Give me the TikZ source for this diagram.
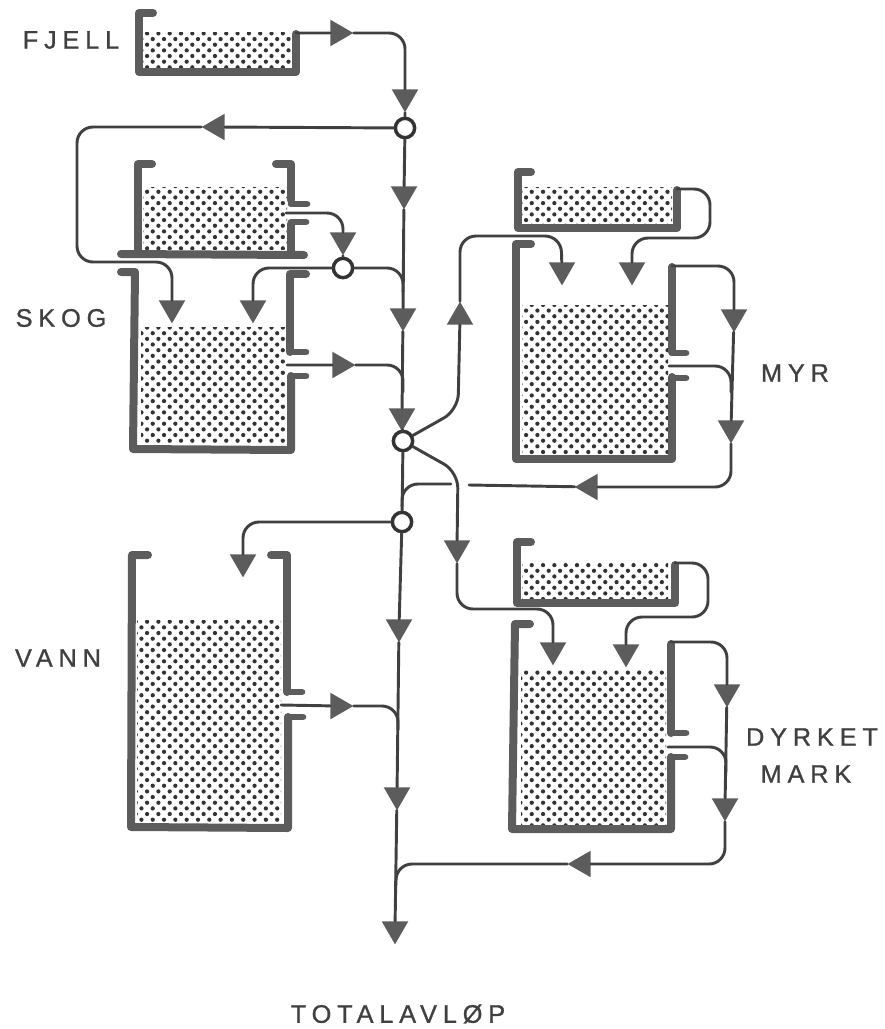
\documentclass[tikz,border=0pt]{standalone}
\usepackage{fontspec}
\setmainfont[LetterSpace=23,FakeBold=1]{Liberation Sans}
\usetikzlibrary{patterns.meta,shapes.geometric}
\definecolor{wallgray}{gray}{0.36}
\definecolor{linegray}{gray}{0.25}
\definecolor{tipgray}{gray}{0.36}
\tikzset{
  wall/.style={line width=6pt,draw=wallgray,line cap=round,line join=round},
  stud/.style={line width=5pt,draw=wallgray,line cap=round},
  stip/.style={pattern={Dots[radius=1.6pt,distance=6pt,angle=45]},pattern color=black!80},
  conn/.style={line width=2.2pt,draw=linegray,rounded corners=12pt},
  tip/.style={regular polygon,regular polygon sides=3,fill=tipgray,inner sep=0pt,minimum size=23pt},
  tipdown/.style={tip,shape border rotate=180},
  tipup/.style={tip},
  tipleft/.style={tip,shape border rotate=90},
  tipright/.style={tip,shape border rotate=-90},
  junct/.style={circle,draw=black!80,line width=2.6pt,fill=white,inner sep=0pt,minimum size=14.5pt},
  lbl/.style={font=\fontsize{19pt}{22pt}\selectfont,text=black!75,inner sep=0pt}
}
\begin{document}
\begin{tikzpicture}[x=0.75pt,y=-0.75pt,line cap=round,line join=round]
  \useasboundingbox (0,0) rectangle (885,1029);
  \fill[stip] (143,32) rectangle (291,68);
  \fill[stip] (143,187) rectangle (287,249);
  \fill[stip] (141,327) rectangle (286,443);
  \fill[stip] (137,620) rectangle (281,822);
  \fill[stip] (522,187) rectangle (672,223);
  \fill[stip] (522,305) rectangle (668,453);
  \fill[stip] (522,562) rectangle (668,598);
  \fill[stip] (521,670) rectangle (666,824);

  \draw[wall] (153,13) -- (139,13) -- (139,72) -- (296,72) -- (296,34);
  \draw[wall] (152,164) -- (138,164) -- (138,252);
  \draw[wall] (276,164) -- (291,164) -- (291,200);
  \draw[wall] (291,224) -- (291,253);
  \draw[wall] (121,254) -- (304,255);
  \draw[stud] (291,204) -- (307,204);
  \draw[stud] (291,222) -- (306,222);
  \draw[wall] (121,272) -- (135,272) -- (133,449) -- (291,450) -- (291,376);
  \draw[wall] (306,274) -- (290,274) -- (290,352);
  \draw[stud] (290,352) -- (306,352);
  \draw[stud] (291,376) -- (306,376);
  \draw[wall] (148,555) -- (132,555) -- (131,827) -- (288,828) -- (288,717);
  \draw[wall] (271,555) -- (287,555) -- (287,692);
  \draw[stud] (287,692) -- (302,692);
  \draw[stud] (288,717) -- (303,717);
  \draw[wall] (531,172) -- (518,172) -- (518,228) -- (677,228) -- (677,190);
  \draw[wall] (531,244) -- (516,244) -- (516,459) -- (672,459) -- (672,377);
  \draw[wall] (672,352) -- (672,267);
  \draw[stud] (672,353) -- (686,353);
  \draw[stud] (672,378) -- (686,378);
  \draw[wall] (531,542) -- (517,542) -- (517,603) -- (675,603) -- (675,565);
  \draw[wall] (530,624) -- (515,624) -- (512,829) -- (671,829) -- (671,757);
  \draw[wall] (671,733) -- (671,644);
  \draw[stud] (671,733) -- (686,733);
  \draw[stud] (671,757) -- (685,757);

  \coordinate (fjellout) at (296,33);
  \coordinate (skogaout) at (286,213);
  \coordinate (skogbout) at (287,365);
  \coordinate (vannout) at (281,705);
  \coordinate (myraout) at (677,189);
  \coordinate (myrbtop) at (672,266);
  \coordinate (myrbout) at (669,366);
  \coordinate (dyraout) at (675,563);
  \coordinate (dyrbtop) at (671,642);
  \coordinate (dyrbout) at (668,747);
  \coordinate (feedcorner) at (77,262);
  \coordinate (myrcorner) at (561,236);
  \coordinate (dyrcorner) at (553,609);
  \coordinate (upbend) at (458,410);
  \coordinate (dnbend) at (458,472);
  \coordinate (mergea) at (403,292);
  \coordinate (mergeb) at (403,392);
  \coordinate (mergec) at (402,506);
  \coordinate (merged) at (398,730);
  \coordinate (mergee) at (396,885);
  \coordinate (mergef) at (731,392);
  \coordinate (mergeg) at (726,772);
  \coordinate (gapright) at (469,485);
  \coordinate (gapleft) at (451,484);
  \coordinate (myraright) at (710,238);
  \coordinate (myrapipe) at (632,238);
  \coordinate (dyraright) at (708,617);
  \coordinate (dyrapipe) at (626,617);

  \node[junct] (jtop) at (405,128) {};
  \node[junct] (jskog) at (343,268) {};
  \node[junct] (jmid) at (403,441) {};
  \node[junct] (jvann) at (402,522) {};

  \node[tipright] (tfjella) at (338,33) {};
  \node[tipdown] (tfjellb) at (405,97) {};
  \node[tipleft] (tfeed) at (217,127) {};
  \node[tipdown] (tmaina) at (404,194) {};
  \node[tipdown] (tskogc) at (343,240) {};
  \node[tipdown] (tskoga) at (172,308) {};
  \node[tipdown] (tskogb) at (253,308) {};
  \node[tipdown] (tmainb) at (403,316) {};
  \node[tipright] (tskogd) at (340,365) {};
  \node[tipdown] (tmainc) at (402,416) {};
  \node[tipup] (tmyrup) at (460,317) {};
  \node[tipdown] (tmyra) at (562,270) {};
  \node[tipdown] (tmyrb) at (632,270) {};
  \node[tipdown] (tmyrc) at (734,317) {};
  \node[tipdown] (tmyrd) at (731,428) {};
  \node[tipleft] (tmyre) at (590,487) {};
  \node[tipdown] (tdyrdn) at (457,548) {};
  \node[tipdown] (tdyra) at (553,650) {};
  \node[tipdown] (tdyrb) at (626,652) {};
  \node[tipdown] (tdyrc) at (727,692) {};
  \node[tipdown] (tdyrd) at (725,806) {};
  \node[tipleft] (tdyre) at (583,864) {};
  \node[tipdown] (tvanna) at (243,562) {};
  \node[tipright] (tvannb) at (338,706) {};
  \node[tipdown] (tmaind) at (399,627) {};
  \node[tipdown] (tmaine) at (397,795) {};
  \node[tipdown] (tmainf) at (395,929) {};

  \draw[conn] (fjellout) -- (tfjella) -| (tfjellb) -- (jtop);
  \draw[conn] (jtop) -- (tfeed) -| (feedcorner) -| (tskoga);
  \draw[conn] (jtop) -- (tmaina) -- (tmainb) -- (tmainc) -- (jmid);
  \draw[conn] (skogaout) -| (tskogc) -- (jskog);
  \draw[conn] (jskog) -| (tskogb);
  \draw[conn] (jskog) -| (mergea);
  \draw[conn] (skogbout) -- (tskogd) -| (mergeb);
  \draw[conn] (jmid) -- (upbend) -- (tmyrup) |- (myrcorner) -- (tmyra);
  \draw[conn] (myraout) -| (myraright) -- (myrapipe) -- (tmyrb);
  \draw[conn] (myrbtop) -| (tmyrc) -- (tmyrd) |- (tmyre) -- (gapright);
  \draw[conn] (myrbout) -| (mergef);
  \draw[conn] (gapleft) -| (mergec);
  \draw[conn] (jmid) -- (jvann);
  \draw[conn] (jmid) -- (dnbend) -- (tdyrdn) |- (dyrcorner) -- (tdyra);
  \draw[conn] (dyraout) -| (dyraright) -- (dyrapipe) -- (tdyrb);
  \draw[conn] (dyrbtop) -| (tdyrc) -- (tdyrd) |- (tdyre) -| (mergee);
  \draw[conn] (dyrbout) -| (mergeg);
  \draw[conn] (jvann) -| (tvanna);
  \draw[conn] (vannout) -- (tvannb) -| (merged);
  \draw[conn] (jvann) -- (tmaind) -- (tmaine) -- (tmainf);

  \node[lbl] (fjell) at (71,40) {FJELL};
  \node[lbl] (skog) at (61,318) {SKOG};
  \node[lbl] (vann) at (58,658) {VANN};
  \node[lbl] (myr) at (795,373) {MYR};
  \node[lbl] (dyrket) at (812,737) {DYRKET};
  \node[lbl] (mark) at (806,774) {MARK};
  \node[lbl] (total) at (398,1014) {TOTALAVLØP};
\end{tikzpicture}
\end{document}
